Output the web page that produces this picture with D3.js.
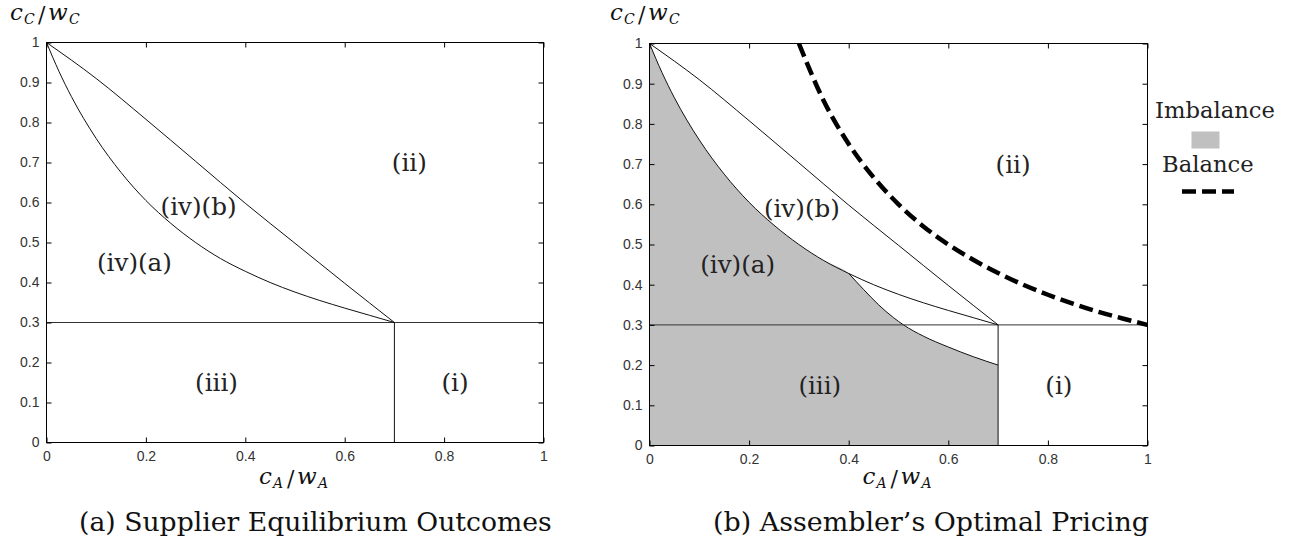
<!DOCTYPE html>
<html lang="en">
<head>
<meta charset="UTF-8">
<title>Supplier equilibrium and assembler pricing</title>
<style>
  body { margin: 0; background: #fff; }
  svg { display: block; }
  .tick line { stroke: #000; }
</style>
</head>
<body>
<div id="chart"></div>
<script src="https://d3js.org/d3.v7.min.js"></script>
<script>
// ---- data ----
var xTicks = [0, 0.2, 0.4, 0.6, 0.8, 1];
var xTickLabels = ["0", "0.2", "0.4", "0.6", "0.8", "1"];
var yTicks = [0, 0.1, 0.2, 0.3, 0.4, 0.5, 0.6, 0.7, 0.8, 0.9, 1];
var yTickLabels = ["0", "0.1", "0.2", "0.3", "0.4", "0.5", "0.6", "0.7", "0.8", "0.9", "1"];

// boundary between (iv)(b) and (ii)
var upperX = [0, 0.1, 0.2, 0.3, 0.4, 0.5, 0.6, 0.7];
var upperY = [1, 0.91, 0.808, 0.703, 0.598, 0.498, 0.398, 0.3];

// boundary between (iv)(a) and (iv)(b)
var lowerX = [0, 0.025, 0.05, 0.1, 0.15, 0.2, 0.25, 0.3, 0.35, 0.4, 0.45, 0.5, 0.55, 0.6, 0.65, 0.7];
var lowerY = [1, 0.928, 0.865, 0.76, 0.675, 0.605, 0.548, 0.5, 0.46, 0.428, 0.4, 0.376, 0.355, 0.336, 0.318, 0.3];

// lower edge of the imbalance region (panel b) after the kink
var grayX = [0.4, 0.43, 0.46, 0.49, 0.51, 0.55, 0.6, 0.65, 0.7];
var grayY = [0.428, 0.388, 0.35, 0.318, 0.3, 0.272, 0.245, 0.221, 0.2];

// balance curve (panel b)
var balX = [0.3, 0.35, 0.4, 0.45, 0.5, 0.55, 0.6, 0.65, 0.7, 0.75, 0.8, 0.85, 0.9, 0.95, 1];
var balY = [1, 0.857, 0.75, 0.667, 0.6, 0.545, 0.5, 0.462, 0.429, 0.4, 0.375, 0.353, 0.333, 0.316, 0.3];

// thresholds
var cA = 0.7, cC = 0.3;

// region labels
var regionNames = ["(ii)", "(iv)(b)", "(iv)(a)", "(iii)", "(i)"];
var regionX = [0.73, 0.306, 0.177, 0.342, 0.822];
var regionY = [0.70, 0.59, 0.45, 0.15, 0.15];

var titles = ["(a) Supplier Equilibrium Outcomes", "(b) Assembler\u2019s Optimal Pricing"];

var width = 1297, height = 550;
var serif = "'DejaVu Serif', 'Liberation Serif', serif";

var svg = d3.select("#chart").append("svg")
  .attr("width", width)
  .attr("height", height);

function zip(xs, ys) { return xs.map(function (v, i) { return [v, ys[i]]; }); }

// fit a text's font size so that it spans w pixels
function fit(t, w) {
  var fs = parseFloat(t.attr("font-size"));
  var cur = t.node().getComputedTextLength();
  t.attr("font-size", (fs * w / cur).toFixed(2));
  return fs * w / cur;
}

// c_X / w_X label, glyph offsets
function ratioLabel(left, base, sub) {
  var t = svg.append("text").attr("font-family", serif).attr("fill", "#111");
  t.append("tspan").attr("x", left + 2).attr("y", base).attr("font-size", 23).attr("font-style", "italic").text("c");
  t.append("tspan").attr("x", left + 16).attr("y", base + 4).attr("font-size", 14).attr("font-style", "italic").text(sub);
  t.append("tspan").attr("x", left + 30).attr("y", base + 2).attr("font-size", 22).text("/");
  t.append("tspan").attr("x", left + 40).attr("y", base).attr("font-size", 23).attr("font-style", "italic").text("w");
  t.append("tspan").attr("x", left + 61).attr("y", base + 4).attr("font-size", 14).attr("font-style", "italic").text(sub);
}

function styleTicks(a) {
  a.select(".domain").remove();
  a.selectAll("text")
    .style("font-family", "'Liberation Sans', Arial, sans-serif")
    .style("font-size", "14px")
    .style("fill", "#333");
}

function drawPanel(p) {
  var x = d3.scaleLinear().domain([0, 1]).range([p.left, p.right]);
  var y = d3.scaleLinear().domain([0, 1]).range([p.bottom, p.top]);
  var g = svg.append("g");

  var line = d3.line()
    .x(function (d) { return x(d[0]); })
    .y(function (d) { return y(d[1]); })
    .curve(d3.curveMonotoneX);

  if (p.shaded) {
    var edge = zip(lowerX, lowerY).filter(function (d) { return d[0] < grayX[0]; })
      .concat(zip(grayX, grayY));
    g.append("path")
      .datum(edge)
      .attr("fill", "#c0c0c0")
      .attr("d", d3.area()
        .x(function (d) { return x(d[0]); })
        .y0(y(0))
        .y1(function (d) { return y(d[1]); })
        .curve(d3.curveMonotoneX));
    g.append("path").datum(zip(grayX, grayY))
      .attr("fill", "none").attr("stroke", "#111").attr("stroke-width", 1).attr("d", line);
  }

  // threshold lines
  g.append("line")
    .attr("x1", x(0)).attr("x2", x(1)).attr("y1", y(cC)).attr("y2", y(cC))
    .attr("stroke", "#333").attr("stroke-width", 1);
  g.append("line")
    .attr("x1", x(cA)).attr("x2", x(cA)).attr("y1", y(0)).attr("y2", y(cC))
    .attr("stroke", "#111").attr("stroke-width", 1);

  g.append("path").datum(zip(upperX, upperY))
    .attr("fill", "none").attr("stroke", "#111").attr("stroke-width", 1).attr("d", line);
  g.append("path").datum(zip(lowerX, lowerY))
    .attr("fill", "none").attr("stroke", "#111").attr("stroke-width", 1).attr("d", line);

  if (p.shaded) {
    g.append("path").datum(zip(balX, balY))
      .attr("fill", "none").attr("stroke", "#000").attr("stroke-width", 4.5)
      .attr("stroke-dasharray", "14,6").attr("d", line);
  }

  // axes: ticks inside on all four sides
  g.append("g").attr("transform", "translate(0," + p.bottom + ")")
    .call(d3.axisBottom(x).tickValues(xTicks).tickFormat(function (d, i) { return xTickLabels[i]; })
      .tickSizeInner(-5).tickSizeOuter(0).tickPadding(9))
    .call(styleTicks);
  g.append("g").attr("transform", "translate(0," + p.top + ")")
    .call(d3.axisTop(x).tickValues(xTicks).tickFormat("").tickSizeInner(-5).tickSizeOuter(0))
    .call(styleTicks);
  g.append("g").attr("transform", "translate(" + p.left + ",0)")
    .call(d3.axisLeft(y).tickValues(yTicks).tickFormat(function (d, i) { return yTickLabels[i]; })
      .tickSizeInner(-5).tickSizeOuter(0).tickPadding(7))
    .call(styleTicks);
  g.append("g").attr("transform", "translate(" + p.right + ",0)")
    .call(d3.axisRight(y).tickValues(yTicks).tickFormat("").tickSizeInner(-5).tickSizeOuter(0))
    .call(styleTicks);

  g.append("rect")
    .attr("x", p.left).attr("y", p.top)
    .attr("width", p.right - p.left).attr("height", p.bottom - p.top)
    .attr("fill", "none").attr("stroke", "#000").attr("stroke-width", 1);

  // region labels
  var labels = g.selectAll(".region")
    .data(regionNames)
    .enter().append("text")
    .attr("class", "region")
    .attr("font-family", serif)
    .attr("font-size", 22)
    .attr("fill", "#222")
    .attr("text-anchor", "middle")
    .attr("dy", "0.35em")
    .attr("x", function (d, i) { return x(regionX[i]); })
    .attr("y", function (d, i) { return y(regionY[i]); })
    .text(function (d) { return d; });
  var fs = fit(labels.filter(function (d) { return d === "(iv)(b)"; }), 76);
  labels.attr("font-size", fs.toFixed(2));

  ratioLabel(p.yLabelLeft, 20, "C");
  ratioLabel((p.left + p.right) / 2 - 38, 484, "A");

  var tt = svg.append("text")
    .attr("font-family", serif).attr("font-size", 24).attr("fill", "#111")
    .attr("x", p.titleLeft).attr("y", 531)
    .text(p.title);
  fit(tt, p.titleWidth);
}

drawPanel({ left: 46.5, right: 543.5, top: 42.5, bottom: 442.5, shaded: false,
  yLabelLeft: 8, title: titles[0], titleLeft: 79, titleWidth: 473 });
drawPanel({ left: 649.5, right: 1147.5, top: 43.5, bottom: 445.5, shaded: true,
  yLabelLeft: 608, title: titles[1], titleLeft: 713, titleWidth: 436 });

// legend
var legend = svg.append("g");
var imb = legend.append("text").attr("font-family", serif).attr("font-size", 20).attr("fill", "#222")
  .attr("x", 1155).attr("y", 110).attr("dy", "0.35em").text("Imbalance");
var lfs = fit(imb, 120);
legend.append("rect").attr("x", 1191.5).attr("y", 131.5).attr("width", 28).attr("height", 17)
  .attr("fill", "#c0c0c0");
legend.append("text").attr("font-family", serif).attr("font-size", lfs.toFixed(2)).attr("fill", "#222")
  .attr("x", 1162).attr("y", 164).attr("dy", "0.35em").text("Balance");
legend.append("line").attr("x1", 1182).attr("x2", 1234).attr("y1", 191.5).attr("y2", 191.5)
  .attr("stroke", "#000").attr("stroke-width", 4.5).attr("stroke-dasharray", "14,6");
</script>
</body>
</html>
